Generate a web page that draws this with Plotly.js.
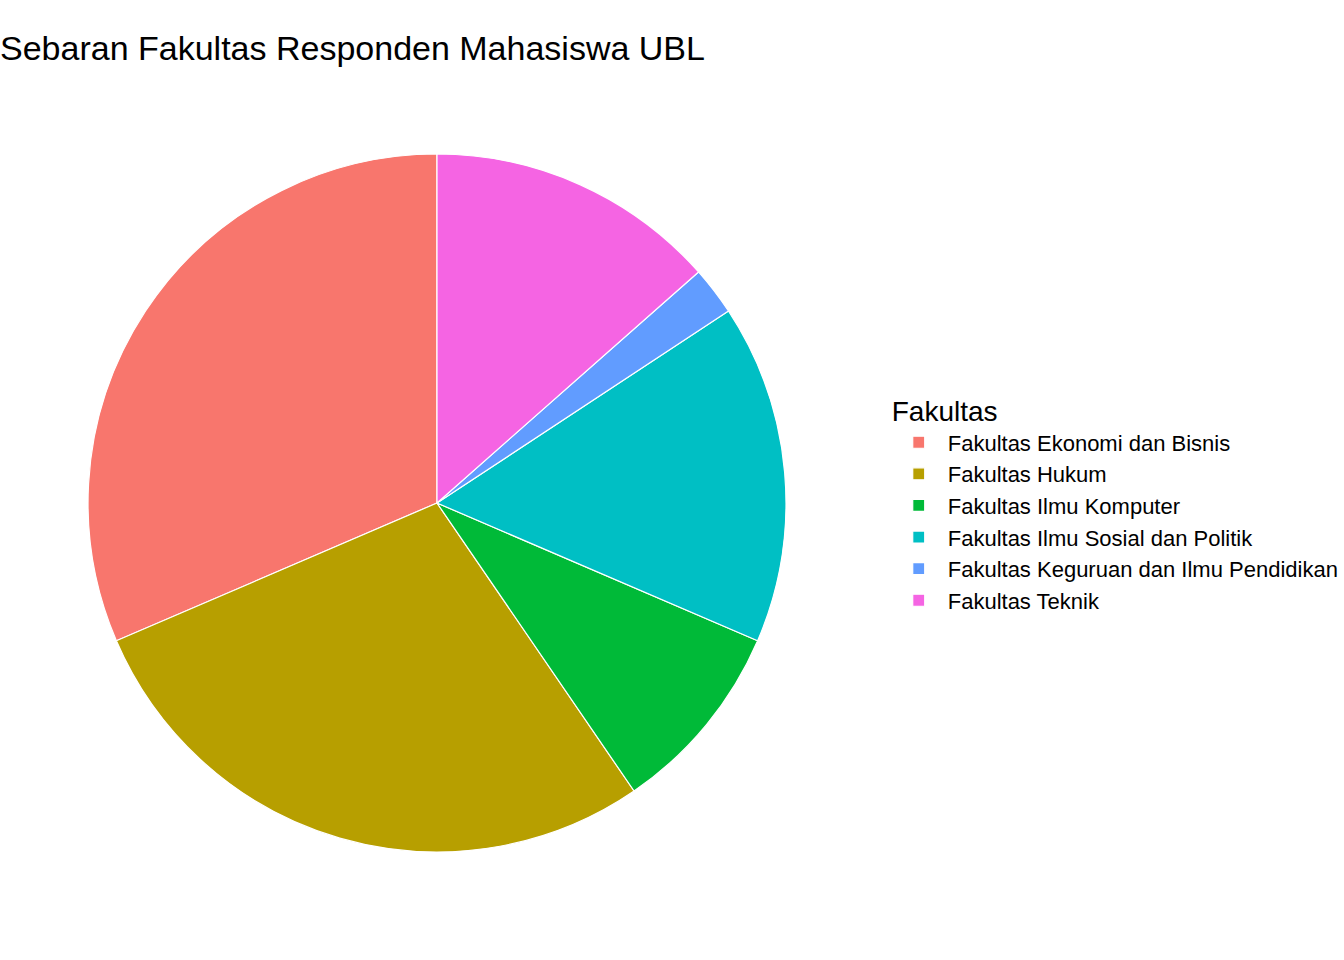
<!DOCTYPE html>
<html>
<head>
<meta charset="utf-8">
<script src="https://cdn.plot.ly/plotly-3.0.1.min.js"></script>
<style>
  body { margin: 0; background: #fff; }
  #chart { width: 1344px; height: 960px; }
</style>
</head>
<body>
<div id="chart"></div>
<script>
// counts per faculty (n = 89)
fakultas = [
    "Fakultas Ekonomi dan Bisnis",
    "Fakultas Hukum",
    "Fakultas Ilmu Komputer",
    "Fakultas Ilmu Sosial dan Politik",
    "Fakultas Keguruan dan Ilmu Pendidikan",
    "Fakultas Teknik"
];
jumlah = [28, 25, 8, 14, 2, 12];
warna = ["#F8766D", "#B79F00", "#00BA38", "#00BFC4", "#619CFF", "#F564E3"];

function total(arr){
    var s = 0;
    for(var i = 0; i < arr.length; i++){
        s += arr[i];
    }
    return s;
}

function makeChart(){
    // counterclockwise in plotly ends the first slice at 12 o'clock,
    // ggplot starts it there, so turn it back by the first slice
    var rot = -360 * jumlah[0] / total(jumlah);
    var trace = {
        type: 'pie',
        labels: fakultas,
        values: jumlah,
        sort: false,
        direction: 'counterclockwise',
        rotation: rot,
        textinfo: 'none',
        hoverinfo: 'label+value+percent',
        marker: {colors: warna, line: {color: '#ffffff', width: 1.2}},
        domain: {x: [0.0655, 0.5848], y: [0.1125, 0.8396]}
    };
    var layout = {
        width: 1344,
        height: 960,
        margin: {l: 0, r: 0, t: 0, b: 0, autoexpand: false},
        paper_bgcolor: '#ffffff',
        font: {family: 'Liberation Sans, Arial, sans-serif', color: '#000000'},
        title: {
            text: 'Sebaran Fakultas Responden Mahasiswa UBL',
            font: {size: 34, color: '#000000'},
            x: 0, xref: 'paper', xanchor: 'left',
            y: 0.95, yref: 'container', yanchor: 'middle'
        },
        showlegend: true,
        legend: {
            title: {text: 'Fakultas', font: {size: 28}},
            font: {size: 22},
            x: 0.662, xanchor: 'left',
            y: 0.476, yanchor: 'middle',
            tracegroupgap: 0,
            itemwidth: 48
        }
    };
    Plotly.newPlot('chart', [trace], layout, {displayModeBar: false});
}

makeChart();
</script>
</body>
</html>
